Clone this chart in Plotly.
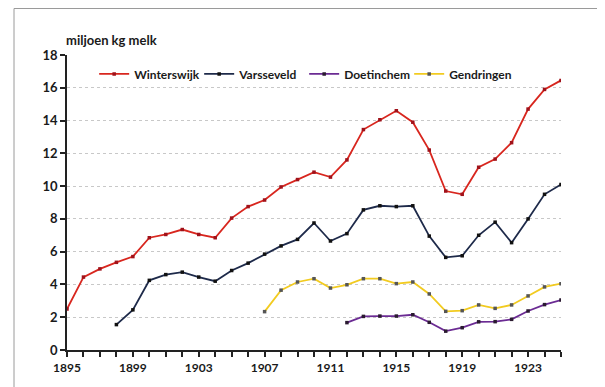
import plotly.graph_objects as go

years = list(range(1895, 1926))

winterswijk = [2.5, 4.45, 4.95, 5.35, 5.7, 6.85, 7.05, 7.35, 7.05, 6.85,
               8.05, 8.75, 9.15, 9.95, 10.4, 10.85, 10.55, 11.6, 13.45, 14.05,
               14.6, 13.9, 12.2, 9.7, 9.5, 11.15, 11.65, 12.65, 14.7, 15.9, 16.45]

varsseveld_years = list(range(1898, 1926))
varsseveld = [1.55, 2.45, 4.25, 4.6, 4.75, 4.45, 4.2, 4.85, 5.3, 5.85,
              6.35, 6.75, 7.75, 6.65, 7.1, 8.55, 8.8, 8.75, 8.8, 6.95,
              5.65, 5.75, 7.0, 7.8, 6.55, 8.0, 9.5, 10.1]

doetinchem_years = list(range(1912, 1926))
doetinchem = [1.67, 2.05, 2.07, 2.07, 2.15, 1.69, 1.15, 1.36, 1.72, 1.73,
              1.87, 2.38, 2.77, 3.05]

gendringen_years = list(range(1907, 1926))
gendringen = [2.34, 3.65, 4.15, 4.35, 3.78, 3.98, 4.35, 4.35, 4.05, 4.15,
              3.42, 2.36, 2.4, 2.75, 2.54, 2.75, 3.3, 3.85, 4.05]

x_ticks = [1895, 1899, 1903, 1907, 1911, 1915, 1919, 1923]
y_ticks = [0, 2, 4, 6, 8, 10, 12, 14, 16, 18]

FONT = "Lato"
TXT = "#1a1a1a"

fig = go.Figure()

def add(name, xs, ys, color, mcolor):
    fig.add_trace(go.Scatter(
        x=xs, y=ys, name=name, mode="lines+markers",
        line=dict(color=color, width=1.8),
        marker=dict(color=mcolor, size=3.5, symbol="square"),
    ))

add("Winterswijk", years, winterswijk, "#d8261e", "#a0121a")
add("Varsseveld", varsseveld_years, varsseveld, "#1e2a4a", "#111111")
add("Doetinchem", doetinchem_years, doetinchem, "#6b2b93", "#2a1a30")
add("Gendringen", gendringen_years, gendringen, "#f2cb20", "#555555")

# page has an 8px body margin: figure origin sits at page (8, 8)
W, H = 597, 379
L, T = 59, 47
R = W - 553
B = H - 342

fig.update_layout(
    width=W, height=H,
    margin=dict(l=L, r=R, t=T, b=B),
    paper_bgcolor="white", plot_bgcolor="white",
    font=dict(family=FONT, size=12, color=TXT),
    showlegend=True,
    legend=dict(
        orientation="h", x=0.055, y=0.985, xanchor="left", yanchor="top",
        bgcolor="rgba(0,0,0,0)", itemwidth=30, entrywidth=60,
        font=dict(family=FONT, size=12, color=TXT, weight="bold"),
        tracegroupgap=0,
    ),
    xaxis=dict(
        range=[1895, 1925], tickmode="array", tickvals=x_ticks,
        ticktext=[str(v) for v in x_ticks],
        showgrid=False, zeroline=False,
        showline=True, linecolor="#222222", linewidth=1.5,
        ticks="", ticklabelstandoff=6,
        tickfont=dict(family=FONT, size=12, color=TXT, weight="bold"),
        minor=dict(ticks="outside", tickvals=years, ticklen=5,
                   tickcolor="#222222", tickwidth=1.5),
        fixedrange=True,
    ),
    yaxis=dict(
        range=[0, 18], tickmode="array", tickvals=y_ticks,
        showgrid=True, gridcolor="#c8c8c8", griddash="dot", gridwidth=1,
        zeroline=False, showline=True, linecolor="#222222", linewidth=1.5,
        ticks="outside", ticklen=5, tickcolor="#222222", tickwidth=1.5,
        tickfont=dict(family=FONT, size=13, color=TXT, weight="bold"),
        fixedrange=True,
    ),
    annotations=[dict(
        text="miljoen kg melk", xref="paper", yref="paper",
        x=-0.006, y=1.018, xanchor="left", yanchor="bottom", showarrow=False,
        font=dict(family=FONT, size=13, color=TXT, weight="bold"),
    )],
    shapes=[dict(
        type="rect", xref="paper", yref="paper",
        x0=-(L - 6) / (553 - L), x1=(595 - L) / (553 - L),
        y0=-0.2, y1=(342 - 0.5) / (342 - T),
        line=dict(color="#9a9a9a", width=1), fillcolor="rgba(0,0,0,0)",
        layer="below",
    )],
)

fig.write_html("out.html")
